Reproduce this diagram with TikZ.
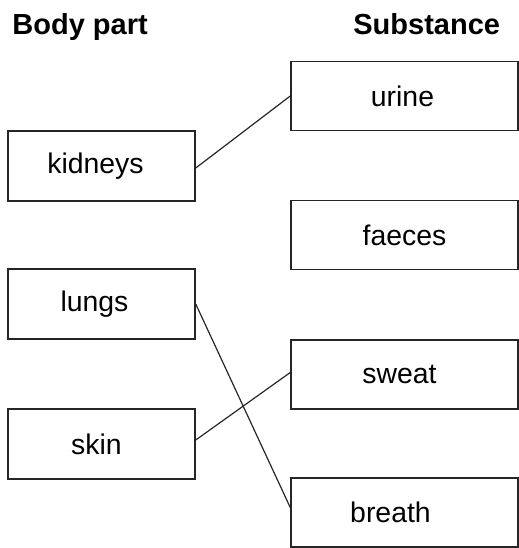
\documentclass[tikz,border=0pt]{standalone}
\usepackage{fontspec}
\setmainfont{Liberation Sans}
\begin{document}
\begin{tikzpicture}[x=0.5pt,y=-0.5pt,
  lbox/.style={draw=black!85,line width=0.75pt,minimum width=93.5pt,minimum height=35pt,inner sep=0pt,font=\fontsize{14.2}{16}\selectfont},
  rbox/.style={draw=black!85,line width=0.75pt,minimum width=113.5pt,minimum height=34.5pt,inner sep=0pt,font=\fontsize{14.2}{16}\selectfont},
  head/.style={anchor=base west,inner sep=0pt,font=\bfseries\fontsize{14.5}{16}\selectfont},
  link/.style={draw=black!85,line width=0.6pt}]
\useasboundingbox (0,0) rectangle (519,548);
\node[head] (hb) at (12,34) {Body part};
\node[head] (hs) at (353,34) {Substance};
\node[lbox] (kidneys) at (101.5,166) {kidneys\hspace{6pt}\mbox{}};
\node[lbox] (lungs) at (101.5,304) {lungs\hspace{7pt}\mbox{}};
\node[lbox] (skin) at (101.5,444) {skin\hspace{5pt}\mbox{}};
\node[rbox] (urine) at (404.5,96) {urine\hspace{2pt}\mbox{}};
\node[rbox] (faeces) at (404.5,235) {faeces};
\node[rbox] (sweat) at (404.5,374.5) {sweat\hspace{5pt}\mbox{}};
\node[rbox] (breath) at (404.5,512.5) {breath\hspace{14pt}\mbox{}};
\draw[link] ([yshift=-1pt]kidneys.east) -- (urine.west);
\draw[link] (lungs.east) -- ([yshift=2.5pt]breath.west);
\draw[link] ([yshift=2pt]skin.east) -- ([yshift=1pt]sweat.west);
\end{tikzpicture}
\end{document}
